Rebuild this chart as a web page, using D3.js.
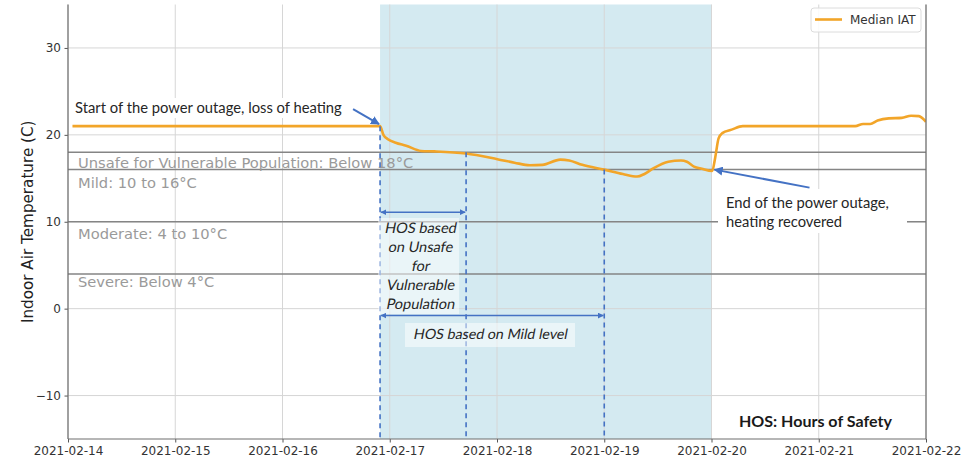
<!DOCTYPE html>
<html><head><meta charset="utf-8">
<script src="https://cdn.jsdelivr.net/npm/d3@7"></script>
<style>body{margin:0;background:#fff}svg{display:block}</style>
</head><body><svg id="c" width="965" height="470"></svg>
<script>
// ---------------- data ----------------
const iatTimes = [
  "2021-02-14T01:00","2021-02-16T21:50","2021-02-16T22:35","2021-02-16T23:35","2021-02-17T01:20",
  "2021-02-17T03:40","2021-02-17T07:00","2021-02-17T10:00","2021-02-17T17:05","2021-02-18T00:05",
  "2021-02-18T03:55","2021-02-18T07:20","2021-02-18T10:10","2021-02-18T14:10","2021-02-18T16:10",
  "2021-02-18T19:05","2021-02-19T00:00","2021-02-19T04:10","2021-02-19T07:20","2021-02-19T09:00",
  "2021-02-19T11:10","2021-02-19T14:20","2021-02-19T17:10","2021-02-19T18:30","2021-02-19T20:05",
  "2021-02-19T21:50","2021-02-20T00:10","2021-02-20T00:50","2021-02-20T01:35","2021-02-20T02:25",
  "2021-02-20T04:30","2021-02-20T07:00","2021-02-21T08:10","2021-02-21T09:55","2021-02-21T11:30",
  "2021-02-21T13:10","2021-02-21T15:40","2021-02-21T18:35","2021-02-21T20:40","2021-02-21T22:25",
  "2021-02-22T00:00"
];
const iatValues = [
  21.0, 21.0, 20.0, 19.5, 19.1,
  18.75, 18.15, 18.1, 17.85, 17.2,
  16.8, 16.5, 16.55, 17.15, 17.05,
  16.55, 16.0, 15.5, 15.2, 15.5,
  16.2, 16.9, 17.05, 16.9, 16.35,
  16.1, 15.85, 17.4, 19.6, 20.2,
  20.6, 21.0, 21.0, 21.25, 21.25,
  21.65, 21.9, 21.95, 22.2, 22.15,
  21.5
];
const seriesName = "Median IAT";
const xTickLabels = ["2021-02-14","2021-02-15","2021-02-16","2021-02-17","2021-02-18","2021-02-19","2021-02-20","2021-02-21","2021-02-22"];
const yTicks = [-10, 0, 10, 20, 30];
const yDomain = [-15, 35];
const thresholds = [18, 16, 10, 4];
const thresholdLabels = ["Unsafe for Vulnerable Population: Below 18°C","Mild: 10 to 16°C","Moderate: 4 to 10°C","Severe: Below 4°C"];
const outage = ["2021-02-16T21:50","2021-02-20T00:00"];
const hosEnds = ["2021-02-17T17:05","2021-02-19T00:00"];   // unsafe, mild
const hosLevels = [18, 16];
const hosArrowLevels = [11.1, -0.8];
const yLabel = "Indoor Air Temperature (C)";
const startNote = "Start of the power outage, loss of heating";
const endNote = ["End of the power outage,","heating recovered"];
const hosUnsafeNote = ["HOS based","on Unsafe","for","Vulnerable","Population"];
const hosMildNote = "HOS based on Mild level";
const hosDef = "HOS: Hours of Safety";

// ---------------- layout ----------------
const svg = d3.select("#c");
const L = 68, R = 926, T = 4.5, B = 439;
const parseT = d3.utcParse("%Y-%m-%dT%H:%M");
const parseD = d3.utcParse("%Y-%m-%d");
const x = d3.scaleUtc().domain([parseD(xTickLabels[0]), parseD(xTickLabels[xTickLabels.length-1])]).range([L, R]);
const y = d3.scaleLinear().domain(yDomain).range([B, T]);
const data = iatTimes.map((t,i)=>({t:parseT(t), v:iatValues[i]}));
const BLUE = "#4472c4";
const CAL = "Lato, Carlito, 'Liberation Sans', sans-serif";
const DJ = "'DejaVu Sans', sans-serif";

function fit(sel, w){
  const fs = parseFloat(sel.attr("font-size"));
  const l = sel.node().getComputedTextLength();
  const nf = fs * w / l;
  sel.attr("font-size", nf);
  return nf;
}

// defs
const defs = svg.append("defs");
defs.append("clipPath").attr("id","plot").append("rect").attr("x",L).attr("y",T).attr("width",R-L).attr("height",B-T);
function marker(id, color, size){
  defs.append("marker").attr("id",id).attr("viewBox","0 0 10 10").attr("refX",9).attr("refY",5)
    .attr("markerWidth",size).attr("markerHeight",size).attr("orient","auto-start-reverse")
    .attr("markerUnits","userSpaceOnUse")
    .append("path").attr("d","M0,0 L10,5 L0,10 z").attr("fill",color);
}
marker("ah", BLUE, 9);
marker("ahs", BLUE, 6);

const g = svg.append("g");

// outage shading
g.append("rect").attr("x", x(parseT(outage[0]))).attr("y", T)
  .attr("width", x(parseT(outage[1])) - x(parseT(outage[0]))).attr("height", B-T)
  .attr("fill", "#d4eaf1");

// grid
g.append("g").selectAll("line").data(xTickLabels.map(parseD)).join("line")
  .attr("x1",d=>x(d)).attr("x2",d=>x(d)).attr("y1",T).attr("y2",B)
  .attr("stroke","#d6d6d6").attr("stroke-width",1);
g.append("g").selectAll("line").data(yTicks).join("line")
  .attr("x1",L).attr("x2",R).attr("y1",d=>y(d)).attr("y2",d=>y(d))
  .attr("stroke","#d6d6d6").attr("stroke-width",1);

// threshold lines
g.append("g").selectAll("line").data(thresholds).join("line")
  .attr("x1",L).attr("x2",R).attr("y1",d=>y(d)).attr("y2",d=>y(d))
  .attr("stroke","#858585").attr("stroke-width",1.5);

// threshold labels
const labOff = [16, 18.5, 17, 13.5];
g.append("g").selectAll("text").data(thresholdLabels).join("text")
  .attr("x", L+10).attr("y",(d,i)=>y(thresholds[i]) + labOff[i])
  .attr("font-family",DJ).attr("font-size",14.7).attr("fill","#9a9a9a").text(d=>d);

// series line
g.append("path").datum(data).attr("clip-path","url(#plot)")
  .attr("d", d3.line().x(d=>x(d.t)).y(d=>y(d.v)).curve(d3.curveMonotoneX))
  .attr("fill","none").attr("stroke","#f2a529").attr("stroke-width",2.6).attr("stroke-linejoin","round");

// dashed verticals
const dashX = [outage[0], hosEnds[0], hosEnds[1]].map(s=>x(parseT(s)));
const dashTop = [21, hosLevels[0], hosLevels[1]].map(v=>y(v));
g.append("g").selectAll("line").data(dashX).join("line")
  .attr("x1",d=>d).attr("x2",d=>d).attr("y1",(d,i)=>dashTop[i]).attr("y2",B)
  .attr("stroke",BLUE).attr("stroke-width",1.6).attr("stroke-dasharray","5,4");

// HOS text boxes
g.append("rect").attr("x",dashX[0]-2).attr("y",218).attr("width",dashX[1]-dashX[0]-5).attr("height",96)
  .attr("fill","#fff").attr("fill-opacity",0.5);
g.append("rect").attr("x",405).attr("y",323).attr("width",170).attr("height",24)
  .attr("fill","#fff").attr("fill-opacity",0.5);

// HOS arrows
[[dashX[0],dashX[1],hosArrowLevels[0]],[dashX[0],dashX[2],hosArrowLevels[1]]].forEach(a=>{
  g.append("line").attr("x1",a[0]+1).attr("x2",a[1]-1).attr("y1",y(a[2])).attr("y2",y(a[2]))
    .attr("stroke",BLUE).attr("stroke-width",1.5)
    .attr("marker-start","url(#ahs)").attr("marker-end","url(#ahs)");
});

// slanted (italic) text helper: positioned by transform so skew works regardless of installed italic faces
function slanted(parent, txt, px, py){
  return parent.append("text").attr("transform",`translate(${px},${py}) skewX(-11)`).text(txt);
}

// HOS unsafe note
const cx1 = (dashX[0]+dashX[1])/2 - 3;
const hu = g.append("g").attr("font-family",CAL).attr("fill","#262626").attr("text-anchor","middle");
const huNodes = hosUnsafeNote.map((d,i)=>slanted(hu, d, cx1, 233 + i*19.1).attr("font-size",15));
const fsHu = fit(huNodes[3], 68);
huNodes.forEach(n=>n.attr("font-size", fsHu));

// HOS mild note
const hm = slanted(g, hosMildNote, 490, 339).attr("text-anchor","middle")
  .attr("font-family",CAL).attr("fill","#262626").attr("font-size",15);
fit(hm, 154);

// start note
g.append("rect").attr("x",72).attr("y",98).attr("width",273).attr("height",20).attr("fill","#fff");
const sn = g.append("text").attr("x",75).attr("y",112.7).attr("font-family",CAL).attr("fill","#262626")
  .attr("font-size",15).text(startNote);
fit(sn, 267);
const sx = x(parseT(outage[0])), sy = y(21);
g.append("line").attr("x1",sx-27).attr("y1",sy-17).attr("x2",sx-1).attr("y2",sy-2)
  .attr("stroke",BLUE).attr("stroke-width",2).attr("marker-end","url(#ah)");

// end note
g.append("rect").attr("x",718).attr("y",189).attr("width",189).attr("height",44).attr("fill","#fff");
const en = g.append("g").attr("font-family",CAL).attr("fill","#262626");
const enT = en.selectAll("text").data(endNote).join("text")
  .attr("x",726).attr("y",(d,i)=>208 + i*18.5).attr("font-size",15).text(d=>d);
const fsEn = fit(enT.filter((d,i)=>i===0), 163);
enT.attr("font-size", fsEn);
const ex = x(parseT(outage[1])), ey = y(16);
g.append("line").attr("x1",ex+98).attr("y1",ey+18).attr("x2",ex+3).attr("y2",ey)
  .attr("stroke",BLUE).attr("stroke-width",2).attr("marker-end","url(#ah)");

// HOS definition
const hd = g.append("text").attr("x",739).attr("y",427).attr("font-family",CAL).attr("font-weight","bold")
  .attr("fill","#1a1a1a").attr("font-size",17).text(hosDef);
fit(hd, 153);

// axes
const xAxis = svg.append("g").attr("transform",`translate(0,${B})`)
  .call(d3.axisBottom(x).tickValues(xTickLabels.map(parseD)).tickFormat(d3.utcFormat("%Y-%m-%d")).tickSize(3.5).tickPadding(3.5));
const yAxis = svg.append("g").attr("transform",`translate(${L},0)`)
  .call(d3.axisLeft(y).tickValues(yTicks).tickFormat(d=>d<0?"\u2212"+Math.abs(d):d).tickSize(3.5).tickPadding(3.5));
[xAxis,yAxis].forEach(a=>{
  a.select(".domain").remove();
  a.selectAll(".tick line").attr("stroke","#555");
  a.selectAll(".tick text").attr("font-family",DJ).attr("font-size",12).attr("fill","#333");
});
// spines
svg.append("line").attr("x1",L).attr("x2",L).attr("y1",T).attr("y2",B).attr("stroke","#6e6e6e").attr("stroke-width",1.2);
svg.append("line").attr("x1",R).attr("x2",R).attr("y1",T).attr("y2",B).attr("stroke","#6e6e6e").attr("stroke-width",1.2);
svg.append("line").attr("x1",L).attr("x2",R).attr("y1",B).attr("y2",B).attr("stroke","#6e6e6e").attr("stroke-width",1.2);

// y label
svg.append("text").attr("transform",`translate(33,${(T+B)/2}) rotate(-90)`).attr("text-anchor","middle")
  .attr("font-family",DJ).attr("font-size",15.2).attr("fill","#222").text(yLabel);

// legend
const lg = svg.append("g");
lg.append("rect").attr("x",811).attr("y",8).attr("width",110).attr("height",24).attr("rx",3)
  .attr("fill","#fff").attr("fill-opacity",0.85).attr("stroke","#dcdcdc");
lg.append("line").attr("x1",815).attr("x2",842).attr("y1",19.5).attr("y2",19.5).attr("stroke","#f2a529").attr("stroke-width",2.6);
lg.append("text").attr("x",850).attr("y",24).attr("font-family",DJ).attr("font-size",12).attr("fill","#333").text(seriesName);
</script></body></html>
